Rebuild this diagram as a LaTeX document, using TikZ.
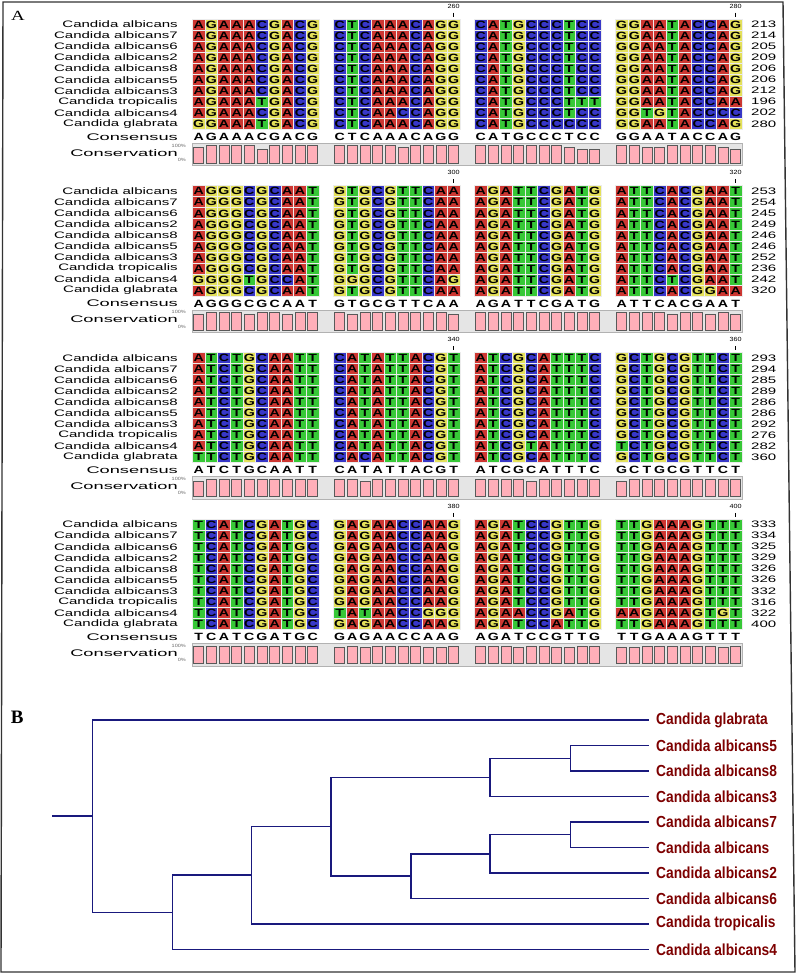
\documentclass[tikz,border=0pt]{standalone}
\usepackage{fontspec}
\setmainfont{Liberation Sans}
\newfontfamily\labfont{Liberation Sans}[FakeStretch=1.6]
\newfontfamily\widefont{Liberation Sans}[FakeStretch=1.9]
\newfontfamily\cellfont{Liberation Sans}[FakeStretch=1.35]
\newfontfamily\smallfont{Liberation Sans}[FakeStretch=1.2]
\newfontfamily\treefont{Liberation Sans}[FakeStretch=0.86]
\newfontfamily\panelfont{Liberation Serif}[FakeStretch=1.35]
\newfontfamily\serifB{Liberation Serif}

\definecolor{baseA}{RGB}{205,55,50}
\definecolor{baseC}{RGB}{55,55,200}
\definecolor{baseG}{RGB}{228,225,90}
\definecolor{baseT}{RGB}{55,200,55}
\definecolor{barpink}{RGB}{255,175,185}
\definecolor{treeblue}{RGB}{25,25,125}
\definecolor{treered}{RGB}{125,0,0}

\tikzset{
  cell/.style={minimum width=12.67pt, minimum height=11.03pt, inner sep=0pt,
    draw=white!85!gray, line width=0.6pt, text height=7.5pt, text depth=0pt,
    font=\cellfont\bfseries\fontsize{10.5}{10.5}\selectfont},
  cellA/.style={cell, fill=baseA},
  cellC/.style={cell, fill=baseC},
  cellG/.style={cell, fill=baseG},
  cellT/.style={cell, fill=baseT},
  conslet/.style={cell, draw=none},
  rowlab/.style={anchor=east, inner sep=0pt, font=\labfont\fontsize{9.4}{10}\selectfont},
  widelab/.style={anchor=east, inner sep=0pt, font=\widefont\fontsize{9.6}{10}\selectfont},
  numlab/.style={anchor=west, inner sep=0pt, font=\labfont\fontsize{9.4}{10}\selectfont},
  pctlab/.style={anchor=east, inner sep=0pt, text=gray!80!black, font=\smallfont\fontsize{4.6}{5}\selectfont},
  rulerlab/.style={inner sep=0pt, font=\smallfont\fontsize{6}{6}\selectfont},
  tick/.style={line width=0.6pt},
  consbg/.style={fill=gray!20, draw=gray!60, line width=0.6pt},
  bar/.style={fill=barpink, draw=gray!70!black, line width=0.5pt},
  branch/.style={draw=treeblue, line width=1.5pt},
  leaf/.style={anchor=west, inner xsep=6.7pt, inner ysep=0pt, text=treered,
    font=\treefont\bfseries\fontsize{16}{16}\selectfont},
  frame/.style={draw=gray!40!black, line width=1.4pt}
}

% one row of coloured cells, groups of ten
\newcount\sqn
\newcommand\seqline[2]{\pgfmathsetmacro\sqy{#1}\sqn=0 \seqlinei#2\relax}
\def\seqlinei#1{\ifx#1\relax\else
  \pgfmathsetmacro\sqx{198.63+141*int(\the\sqn/10)+12.67*mod(\the\sqn,10)}%
  \node[cell#1] at (\sqx,\sqy) {#1};%
  \advance\sqn by 1
  \expandafter\seqlinei\fi}
% consensus letters
\newcommand\consline[2]{\pgfmathsetmacro\sqy{#1}\sqn=0 \conslinei#2\relax}
\def\conslinei#1{\ifx#1\relax\else
  \pgfmathsetmacro\sqx{198.63+141*int(\the\sqn/10)+12.67*mod(\the\sqn,10)}%
  \node[conslet] at (\sqx,\sqy) {#1};%
  \advance\sqn by 1
  \expandafter\conslinei\fi}
% conservation bars, digit = number of rows off the consensus
\newcommand\consbars[2]{\pgfmathsetmacro\cby{#1}\sqn=0 \consbarsi#2\relax}
\def\consbarsi#1{\ifx#1\relax\else
  \pgfmathsetmacro\sqx{192.3+141*int(\the\sqn/10)+12.67*mod(\the\sqn,10)}%
  \pgfmathsetmacro\bartop{\cby+126.7+1.76*#1}%
  \draw[bar] (\sqx+1.3,\cby+144.3) rectangle (\sqx+11.3,\bartop);%
  \advance\sqn by 1
  \expandafter\consbarsi\fi}
% labels, numbers and ruler of one block
\newcommand\blockframe[4]{%
  \foreach \nm [count=\i from 0] in {Candida albicans, Candida albicans7, Candida albicans6,
      Candida albicans2, Candida albicans8, Candida albicans5, Candida albicans3,
      Candida tropicalis, Candida albicans4, Candida glabrata}
    \node[rowlab] at (178,#1+5.5+11.03*\i) {\nm};
  \foreach \n [count=\i from 0] in {#2}
    \node[numlab] at (751,#1+5.5+11.03*\i) {\n};
  \node[widelab] at (178,#1+117.7) {Consensus};
  \node[widelab] at (178,#1+133.7) {Conservation};
  \node[pctlab] at (186,#1+126.7) {100\%};
  \node[pctlab] at (186,#1+141) {0\%};
  \node[rulerlab] at (453.66,#1-13) {#3};
  \draw[tick] (453.66,#1-6.3) -- (453.66,#1-2.3);
  \node[rulerlab] at (735.66,#1-13) {#4};
  \draw[tick] (735.66,#1-6.3) -- (735.66,#1-2.3);
  \draw[consbg] (192.3,#1+124.3) rectangle (742,#1+146.7);
}

\begin{document}
\begin{tikzpicture}[x=1pt, y=-1pt]
  \useasboundingbox (0,0) rectangle (799,975);
  \draw[frame] (3,2) -- (783,2) -- (795,972) -- (1,972) -- cycle;
  \node[font=\panelfont\fontsize{14}{14}\selectfont] (pA) at (18,16) {A};

  % block 1
  \def\T{19}
  \blockframe{\T}{213,214,205,209,206,206,212,196,202,280}{260}{280}
  \foreach \r in {0,...,6}{
    \seqline{\T+5.5+11.03*\r}{AGAAACGACG CTCAAACAGG CATGCCCTCC GGAATACCAG}}
  \seqline{\T+5.5+11.03*7}{AGAAATGACG CTCAAACAGG CATGCCCTTT GGAATACCAA}
  \seqline{\T+5.5+11.03*8}{AGAAACGACG CTCAACCAGG CATGCCCTCC GGTGTACCCC}
  \seqline{\T+5.5+11.03*9}{GGAAATGACG CTCAAACAGG CATGCCCCCC GGAATACCAG}
  \consline{\T+117.7}{AGAAACGACG CTCAAACAGG CATGCCCTCC GGAATACCAG}
  \consbars{\T}{1000020000 0000010000 0000000122 0011000012}

  % block 2
  \def\T{185.7}
  \blockframe{\T}{253,254,245,249,246,246,252,236,242,320}{300}{320}
  \foreach \r in {0,...,7}{
    \seqline{\T+5.5+11.03*\r}{AGGGCGCAAT GTGCGTTCAA AGATTCGATG ATTCACGAAT}}
  \seqline{\T+5.5+11.03*8}{GGGGTGCCAT GGGCGTTCAG AGATTCGATG ATTCTCGAAT}
  \seqline{\T+5.5+11.03*9}{AGGGCGCAAT GTGCGTTCAA AGATTCGATG ATTCACGGAA}
  \consline{\T+117.7}{AGGGCGCAAT GTGCGTTCAA AGATTCGATG ATTCACGAAT}
  \consbars{\T}{1000100100 0100000001 0000000000 0000100101}

  % block 3
  \def\T{352.4}
  \blockframe{\T}{293,294,285,289,286,286,292,276,282,360}{340}{360}
  \foreach \r in {0,...,7}{
    \seqline{\T+5.5+11.03*\r}{ATCTGCAATT CATATTACGT ATCGCATTTC GCTGCGTTCT}}
  \seqline{\T+5.5+11.03*8}{ATCTGCAATT CATATTACGT ATCGTATTTC TCTGCGTTCT}
  \seqline{\T+5.5+11.03*9}{TTCTGCAATT CACATTACGT ATCGCATTTC GCTGCGTTCT}
  \consline{\T+117.7}{ATCTGCAATT CATATTACGT ATCGCATTTC GCTGCGTTCT}
  \consbars{\T}{1000000000 0010000000 0000100000 1000000000}

  % block 4
  \def\T{519.1}
  \blockframe{\T}{333,334,325,329,326,326,332,316,322,400}{380}{400}
  \foreach \r in {0,...,7}{
    \seqline{\T+5.5+11.03*\r}{TCATCGATGC GAGAACCAAG AGATCCGTTG TTGAAAGTTT}}
  \seqline{\T+5.5+11.03*8}{TCATCGATGC TATAACCGGG AGAACCGATG AAGAAAGTGT}
  \seqline{\T+5.5+11.03*9}{TCATCGATGC GAGAACCAAG AGATCCATTG TTGAAAGTTT}
  \consline{\T+117.7}{TCATCGATGC GAGAACCAAG AGATCCGTTG TTGAAAGTTT}
  \consbars{\T}{0000000000 1010000110 0001001100 1100000010}

  % tree
  \node[font=\serifB\bfseries\fontsize{19}{19}\selectfont] (pB) at (17.3,717.3) {B};
  \node[leaf] (glab) at (649.3,720) {Candida glabrata};
  \node[leaf] (alb5) at (649.3,745.5) {Candida albicans5};
  \node[leaf] (alb8) at (649.3,771) {Candida albicans8};
  \node[leaf] (alb3) at (649.3,796.4) {Candida albicans3};
  \node[leaf] (alb7) at (649.3,821.9) {Candida albicans7};
  \node[leaf] (alb) at (649.3,847.4) {Candida albicans};
  \node[leaf] (alb2) at (649.3,872.9) {Candida albicans2};
  \node[leaf] (alb6) at (649.3,898.3) {Candida albicans6};
  \node[leaf] (trop) at (649.3,923.8) {Candida tropicalis};
  \node[leaf] (alb4) at (649.3,949.3) {Candida albicans4};
  \coordinate (root) at (52.3,816.1);
  \coordinate (n0) at (92.3,816.1);
  \coordinate (n1) at (172.3,912.3);
  \coordinate (n2) at (251.7,875.2);
  \coordinate (n3) at (331,826.7);
  \coordinate (n4) at (490,777.3);
  \coordinate (n5) at (570.3,758.25);
  \coordinate (n6) at (411,876);
  \coordinate (n7) at (490,853.8);
  \coordinate (n8) at (570.3,834.65);
  \draw[branch] (root) -- (n0);
  \draw[branch] (n0) |- (glab.west);
  \draw[branch] (n0) |- (n1);
  \draw[branch] (n1) |- (n2);
  \draw[branch] (n1) |- (alb4.west);
  \draw[branch] (n2) |- (n3);
  \draw[branch] (n2) |- (trop.west);
  \draw[branch] (n3) |- (n4);
  \draw[branch] (n3) |- (n6);
  \draw[branch] (n4) |- (n5);
  \draw[branch] (n4) |- (alb3.west);
  \draw[branch] (n5) |- (alb5.west);
  \draw[branch] (n5) |- (alb8.west);
  \draw[branch] (n6) |- (n7);
  \draw[branch] (n6) |- (alb6.west);
  \draw[branch] (n7) |- (n8);
  \draw[branch] (n7) |- (alb2.west);
  \draw[branch] (n8) |- (alb7.west);
  \draw[branch] (n8) |- (alb.west);
\end{tikzpicture}
\end{document}
